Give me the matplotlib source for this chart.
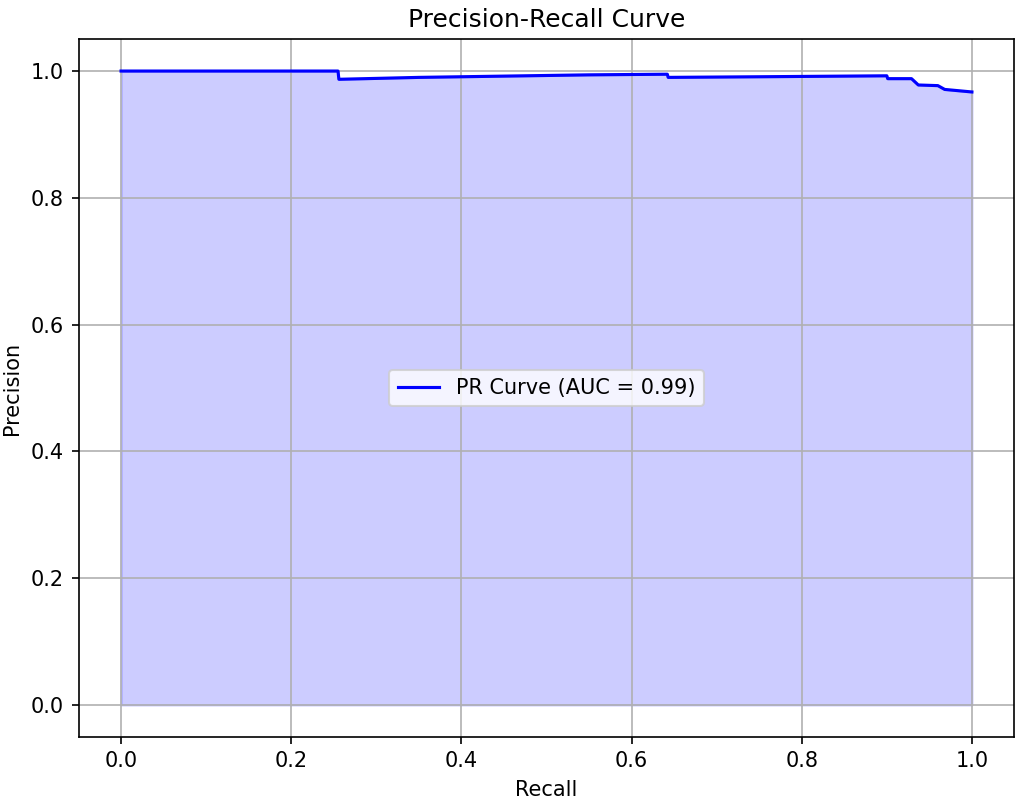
import matplotlib
matplotlib.use("Agg")
import matplotlib.pyplot as plt

# recall / precision pairs taken along the curve
recall = [0.0, 0.255, 0.256, 0.35, 0.45, 0.55, 0.642, 0.643, 0.75, 0.90,
          0.901, 0.929, 0.937, 0.96, 0.968, 1.0]
precision = [1.0, 1.0, 0.987, 0.990, 0.992, 0.994, 0.995, 0.990, 0.991, 0.9925,
             0.988, 0.988, 0.978, 0.977, 0.971, 0.967]
pr_auc = 0.99

fig = plt.figure(figsize=(1017 / 150, 803 / 150), dpi=150)
plt.subplots_adjust(left=0.0772, right=0.9975, top=0.951, bottom=0.0826)

plt.plot(recall, precision, color='blue', label=f'PR Curve (AUC = {pr_auc:.2f})')
plt.fill_between(recall, precision, alpha=0.2, color='blue')
plt.xlabel('Recall')
plt.ylabel('Precision')
plt.title('Precision-Recall Curve')
plt.legend(loc='center')
plt.grid(True)

plt.savefig('out.png', dpi=150)
